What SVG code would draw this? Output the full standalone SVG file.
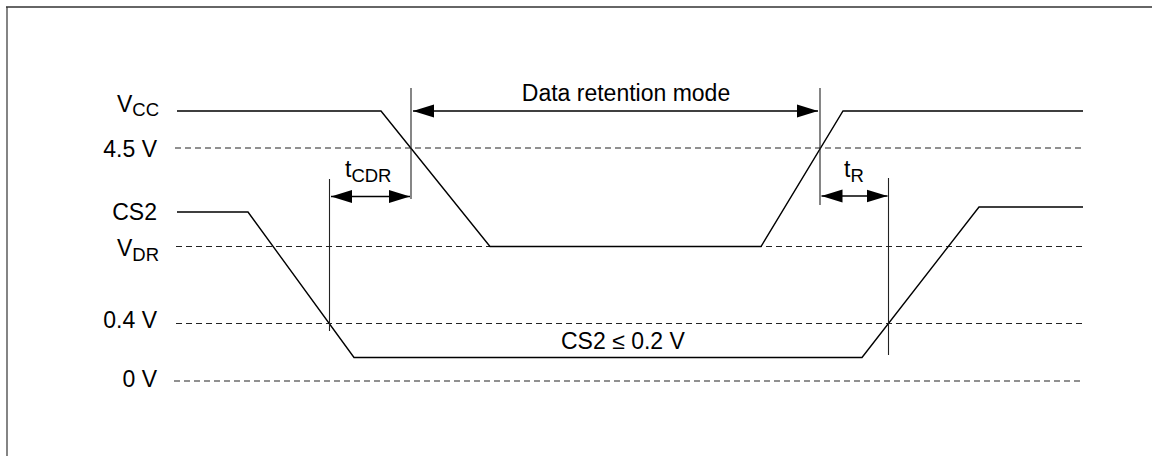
<svg xmlns="http://www.w3.org/2000/svg" width="1152" height="456" viewBox="0 0 1152 456">
<style>
text{font-family:"Liberation Sans",Arial,sans-serif;font-size:23px;fill:#000}
.sub{font-size:18.5px}
.sig{fill:none;stroke:#000;stroke-width:1.4;stroke-linejoin:miter}
.ref{fill:none;stroke:#222;stroke-width:1.1;stroke-dasharray:6 4}
.mk{fill:none;stroke:#222;stroke-width:1.1}
.dim{fill:none;stroke:#000;stroke-width:1.4}
</style>
<defs>
<marker id="ah" markerUnits="userSpaceOnUse" markerWidth="22" markerHeight="14" refX="21" refY="7" orient="auto-start-reverse">
<path d="M0,0.5 L21,7 L0,13.5 z" fill="#000"/>
</marker>
</defs>
<rect width="1152" height="456" fill="#fff"/>
<g id="frame">
<line x1="6" y1="7" x2="1152" y2="7" stroke="#666" stroke-width="2"/>
<line x1="7" y1="7" x2="7" y2="456" stroke="#333" stroke-width="1.2"/>
</g>
<g id="labels">
<text x="117" y="112">V<tspan class="sub" dy="4">CC</tspan></text>
<text x="157" y="157" text-anchor="end">4.5 V</text>
<text x="157" y="219.5" text-anchor="end">CS2</text>
<text x="117" y="256">V<tspan class="sub" dy="5">DR</tspan></text>
<text x="157" y="328" text-anchor="end">0.4 V</text>
<text x="157" y="386.5" text-anchor="end">0 V</text>
</g>
<g id="reference-levels">
<line class="ref" x1="175" y1="148" x2="1083" y2="148"/>
<line class="ref" x1="176" y1="246.5" x2="1083" y2="246.5"/>
<line class="ref" x1="176" y1="323.5" x2="1083" y2="323.5"/>
<line class="ref" x1="174" y1="381" x2="1083" y2="381"/>
</g>
<g id="vcc-signal">
<polyline class="sig" points="177,111 381,111 490,246.5 761,246.5 843,111 1083,111"/>
</g>
<g id="cs2-signal">
<polyline class="sig" points="177,212 248,212 354,357.5 862,357.5 979,207 1083,207"/>
</g>
<g id="markers">
<line class="mk" x1="329.5" y1="179" x2="329.5" y2="331"/>
<line class="mk" x1="411" y1="88" x2="411" y2="199"/>
<line class="mk" x1="820" y1="88" x2="820" y2="205"/>
<line class="mk" x1="888.5" y1="178" x2="888.5" y2="355"/>
</g>
<g id="connectors">
<line class="dim" x1="413" y1="111" x2="818" y2="111" marker-start="url(#ah)" marker-end="url(#ah)"/>
<line class="dim" x1="331" y1="196.5" x2="410" y2="196.5" marker-start="url(#ah)" marker-end="url(#ah)"/>
<line class="dim" x1="821.5" y1="196" x2="887.5" y2="196" marker-start="url(#ah)" marker-end="url(#ah)"/>
</g>
<g id="dim-labels">
<text x="626" y="100.5" text-anchor="middle">Data retention mode</text>
<text x="345" y="177">t<tspan class="sub" dy="5">CDR</tspan></text>
<text x="844" y="177">t<tspan class="sub" dy="5">R</tspan></text>
<text x="561" y="348.5">CS2 ≤ 0.2 V</text>
</g>
</svg>
